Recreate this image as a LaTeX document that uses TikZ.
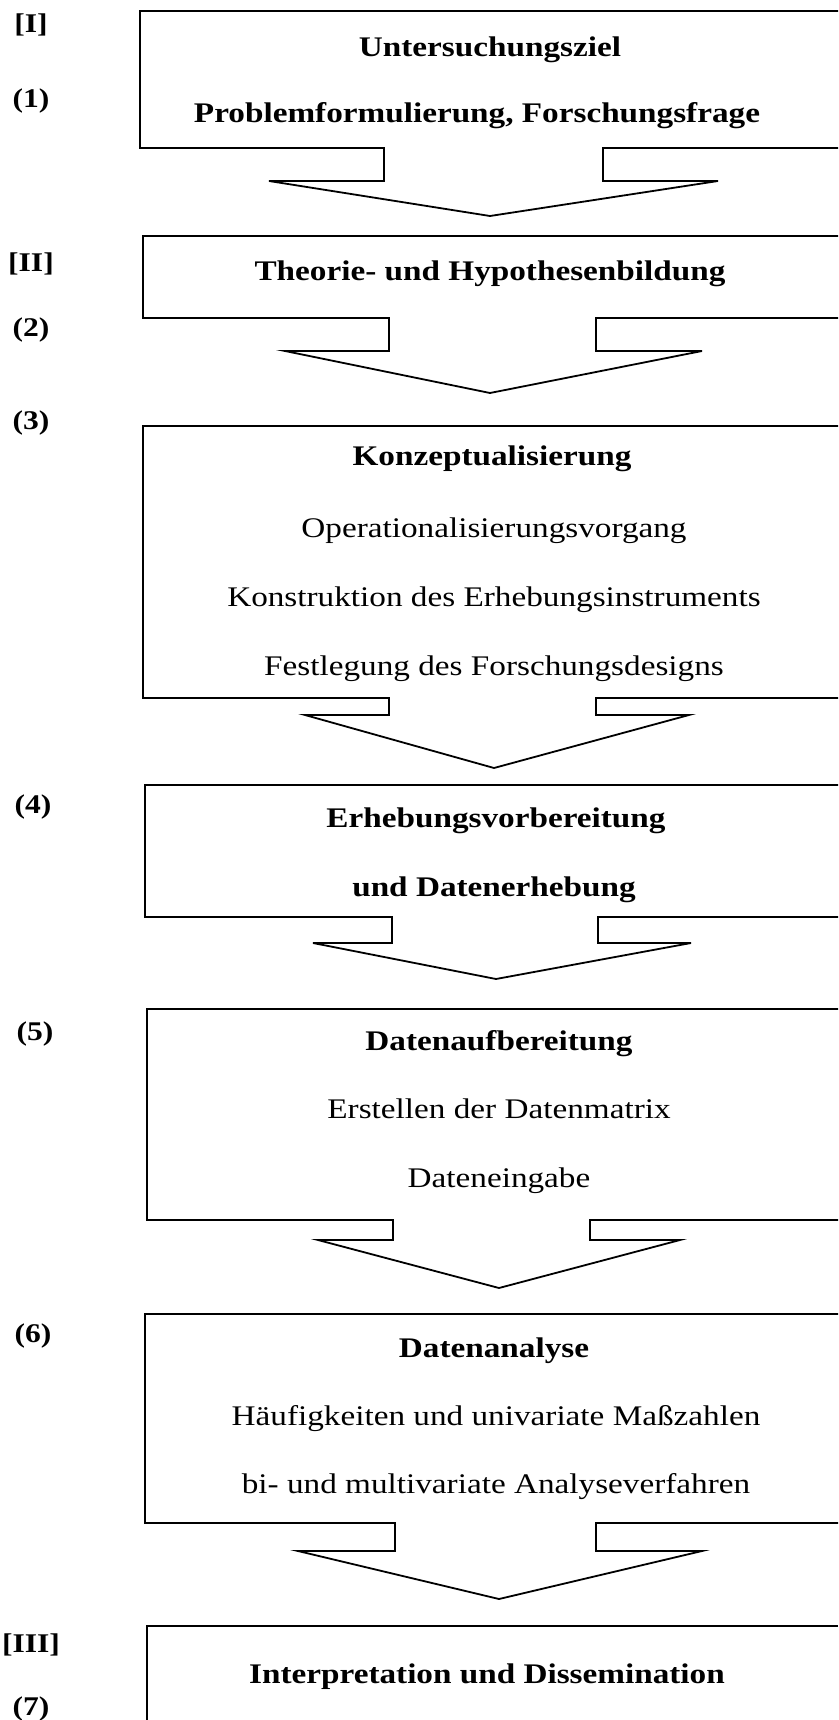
\documentclass[tikz,border=0pt]{standalone}
\usepackage{fontspec}
\setmainfont{Liberation Serif}[FakeStretch=1.17]
\begin{document}
\begin{tikzpicture}[x=1pt,y=-1pt,
  boxline/.style={line width=1.8pt,line join=miter},
  bt/.style={font=\fontsize{28.4}{31}\bfseries\selectfont,inner sep=0pt,anchor=base},
  nt/.style={font=\fontsize{28.4}{31}\selectfont,inner sep=0pt,anchor=base},
  lab/.style={font=\fontsize{27}{30}\bfseries\selectfont,inner sep=0pt,anchor=base}]
\useasboundingbox[fill=white] (0,0) rectangle (838,1720);
% box with arrow notch: #1 L, #2 T, #3 B, #4 xl, #5 xr, #6 y2, #7 ol, #8 or, #9 tip
\newcommand{\flowbox}[9]{%
  \draw[boxline] (838,#2) -- (#1,#2) -- (#1,#3) -- (#4,#3) -- (#4,#6) -- (#7,#6)
    -- (#9) -- (#8,#6) -- (#5,#6) -- (#5,#3) -- (838,#3);}
\coordinate (t1) at (490,216);
\coordinate (t2) at (490,393);
\coordinate (t3) at (494,768);
\coordinate (t4) at (496,979);
\coordinate (t5) at (499,1288);
\coordinate (t6) at (499,1599);
\flowbox{140}{11}{148}{384}{603}{181}{269}{718}{t1}
\flowbox{143}{236}{318}{389}{596}{351}{285}{702}{t2}
\flowbox{143}{426}{698}{389}{596}{715}{305}{689}{t3}
\flowbox{145}{785}{917}{392}{598}{943}{313}{691}{t4}
\flowbox{147}{1009}{1220}{393}{590}{1240}{318}{680}{t5}
\flowbox{145}{1314}{1523}{395}{596}{1551}{298}{702}{t6}
\draw[boxline] (838,1626) -- (147,1626) -- (147,1720);
% labels
\node[lab] (l1) at (31,33) {[I]};
\node[lab] (l2) at (31,108) {(1)};
\node[lab] (l3) at (31,272) {[II]};
\node[lab] (l4) at (31,336) {(2)};
\node[lab] (l5) at (31,429) {(3)};
\node[lab] (l6) at (33,813) {(4)};
\node[lab] (l7) at (35,1040) {(5)};
\node[lab] (l8) at (33,1342) {(6)};
\node[lab] (l9) at (31,1652) {[III]};
\node[lab] (l10) at (31,1715) {(7)};
% texts
\node[bt] (a1) at (490,57) {Untersuchungsziel};
\node[bt] (a2) at (477,123) {Problemformulierung, Forschungsfrage};
\node[bt] (b1) at (490,280) {Theorie- und Hypothesenbildung};
\node[bt] (c1) at (492,465) {Konzeptualisierung};
\node[nt] (c2) at (494,537) {Operationalisierungsvorgang};
\node[nt] (c3) at (494,606) {Konstruktion des Erhebungsinstruments};
\node[nt] (c4) at (494,675) {Festlegung des Forschungsdesigns};
\node[bt] (d1) at (496,827) {Erhebungsvorbereitung};
\node[bt] (d2) at (494,896) {und Datenerhebung};
\node[bt] (e1) at (499,1050) {Datenaufbereitung};
\node[nt] (e2) at (499,1118) {Erstellen der Datenmatrix};
\node[nt] (e3) at (499,1187) {Dateneingabe};
\node[bt] (f1) at (494,1357) {Datenanalyse};
\node[nt] (f2) at (496,1425) {Häufigkeiten und univariate Maßzahlen};
\node[nt] (f3) at (496,1493) {bi- und multivariate Analyseverfahren};
\node[bt] (g1) at (487,1683) {Interpretation und Dissemination};
\end{tikzpicture}
\end{document}
